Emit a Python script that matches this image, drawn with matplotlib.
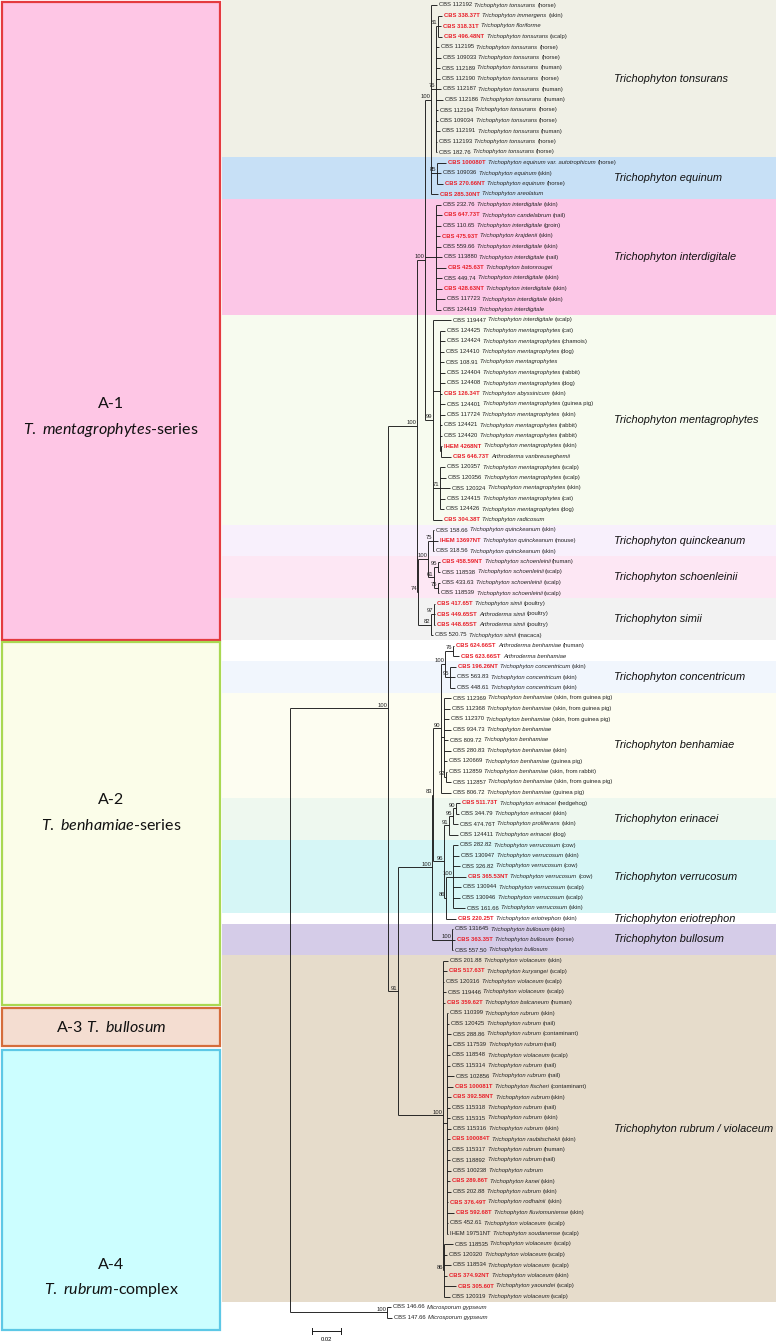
import matplotlib.pyplot as plt

# ---------------- data ----------------
strains = [
    "CBS 112192", "CBS 338.37T", "CBS 318.31T", "CBS 496.48NT", "CBS 112195", "CBS 109033", "CBS 112189",
    "CBS 112190", "CBS 112187", "CBS 112186", "CBS 112194", "CBS 109034", "CBS 112191", "CBS 112193", "CBS 182.76",
    "CBS 100080T", "CBS 109036", "CBS 270.66NT", "CBS 285.30NT",
    "CBS 232.76", "CBS 647.73T", "CBS 110.65", "CBS 475.93T", "CBS 559.66", "CBS 113880", "CBS 425.63T",
    "CBS 449.74", "CBS 428.63NT", "CBS 117723", "CBS 124419",
    "CBS 119447", "CBS 124425", "CBS 124424", "CBS 124410", "CBS 108.91", "CBS 124404", "CBS 124408",
    "CBS 126.34T", "CBS 124401", "CBS 117724", "CBS 124421", "CBS 124420", "IHEM 4268NT", "CBS 646.73T",
    "CBS 120357", "CBS 120356", "CBS 120324", "CBS 124415", "CBS 124426", "CBS 304.38T",
    "CBS 158.66", "IHEM 13697NT", "CBS 318.56",
    "CBS 458.59NT", "CBS 118538", "CBS 433.63", "CBS 118539",
    "CBS 417.65T", "CBS 449.65ST", "CBS 448.65ST", "CBS 520.75",
    "CBS 624.66ST", "CBS 623.66ST",
    "CBS 196.26NT", "CBS 563.83", "CBS 448.61",
    "CBS 112369", "CBS 112368", "CBS 112370", "CBS 934.73", "CBS 809.72", "CBS 280.83", "CBS 120669",
    "CBS 112859", "CBS 112857", "CBS 806.72",
    "CBS 511.73T", "CBS 344.79", "CBS 474.76T", "CBS 124411",
    "CBS 282.82", "CBS 130947", "CBS 326.82", "CBS 365.53NT", "CBS 130944", "CBS 130946", "CBS 161.66",
    "CBS 220.25T",
    "CBS 131645", "CBS 363.35T", "CBS 557.50",
    "CBS 201.88", "CBS 517.63T", "CBS 120316", "CBS 119446", "CBS 359.62T", "CBS 110399", "CBS 120425",
    "CBS 288.86", "CBS 117539", "CBS 118548", "CBS 115314", "CBS 102856", "CBS 100081T", "CBS 392.58NT",
    "CBS 115318", "CBS 115315", "CBS 115316", "CBS 100084T", "CBS 115317", "CBS 118892", "CBS 100238",
    "CBS 289.86T", "CBS 202.88", "CBS 376.49T", "CBS 592.68T", "CBS 452.61", "IHEM 19751NT", "CBS 118535",
    "CBS 120320", "CBS 118534", "CBS 374.92NT", "CBS 305.60T", "CBS 120319",
    "CBS 146.66", "CBS 147.66",
]

species = (
    ["Trichophyton tonsurans", "Trichophyton immergens", "Trichophyton floriforme"]
    + ["Trichophyton tonsurans"] * 12
    + ["Trichophyton equinum var. autotrophicum", "Trichophyton equinum", "Trichophyton equinum",
       "Trichophyton areolatum"]
    + ["Trichophyton interdigitale", "Trichophyton candelabrum", "Trichophyton interdigitale",
       "Trichophyton krajdenii", "Trichophyton interdigitale", "Trichophyton interdigitale",
       "Trichophyton batonrougei"] + ["Trichophyton interdigitale"] * 5
    + ["Trichophyton mentagrophytes"] * 6 + ["Trichophyton abyssinicum"]
    + ["Trichophyton mentagrophytes"] * 5 + ["Arthroderma vanbreuseghemii"]
    + ["Trichophyton mentagrophytes"] * 5 + ["Trichophyton radicosum"]
    + ["Trichophyton quinckeanum"] * 3
    + ["Trichophyton schoenleinii"] * 4
    + ["Trichophyton simii", "Arthroderma simii", "Arthroderma simii", "Trichophyton simii"]
    + ["Arthroderma benhamiae"] * 2
    + ["Trichophyton concentricum"] * 3
    + ["Trichophyton benhamiae"] * 10
    + ["Trichophyton erinacei", "Trichophyton erinacei", "Trichophyton proliferans", "Trichophyton erinacei"]
    + ["Trichophyton verrucosum"] * 7
    + ["Trichophyton eriotrephon"]
    + ["Trichophyton bullosum"] * 3
    + ["Trichophyton violaceum", "Trichophyton kuryangei", "Trichophyton violaceum", "Trichophyton violaceum",
       "Trichophyton balcaneum", "Trichophyton rubrum", "Trichophyton rubrum", "Trichophyton rubrum",
       "Trichophyton rubrum", "Trichophyton violaceum", "Trichophyton rubrum", "Trichophyton rubrum",
       "Trichophyton fischeri", "Trichophyton rubrum", "Trichophyton rubrum", "Trichophyton rubrum",
       "Trichophyton rubrum", "Trichophyton raubitschekii", "Trichophyton rubrum", "Trichophyton rubrum",
       "Trichophyton rubrum", "Trichophyton kanei", "Trichophyton rubrum", "Trichophyton rodhainii",
       "Trichophyton fluviomuniense", "Trichophyton violaceum", "Trichophyton soudanense",
       "Trichophyton violaceum", "Trichophyton violaceum", "Trichophyton violaceum", "Trichophyton violaceum",
       "Trichophyton yaoundei", "Trichophyton violaceum"]
    + ["Microsporum gypseum"] * 2
)

hosts = [
    "horse", "skin", "", "scalp", "horse", "horse", "human", "horse", "human", "human", "horse", "horse",
    "human", "horse", "horse",
    "horse", "skin", "horse", "",
    "skin", "nail", "groin", "skin", "skin", "nail", "", "skin", "skin", "skin", "",
    "scalp", "cat", "chamois", "dog", "", "rabbit", "dog", "skin", "guinea pig", "skin", "rabbit", "rabbit",
    "skin", "", "scalp", "scalp", "skin", "cat", "dog", "",
    "skin", "mouse", "skin",
    "human", "scalp", "scalp", "scalp",
    "poultry", "poultry", "poultry", "macaca",
    "human", "",
    "skin", "skin", "skin",
    "skin, from guinea pig", "skin, from guinea pig", "skin, from guinea pig", "", "", "skin", "guinea pig",
    "skin, from rabbit", "skin, from guinea pig", "guinea pig",
    "hedgehog", "skin", "skin", "dog",
    "cow", "skin", "cow", "cow", "scalp", "scalp", "skin",
    "skin",
    "skin", "horse", "",
    "skin", "scalp", "scalp", "scalp", "human", "skin", "nail", "contaminant", "nail", "scalp", "nail", "nail",
    "contaminant", "skin", "nail", "skin", "skin", "skin", "human", "nail", "", "skin", "skin", "skin", "skin",
    "scalp", "scalp", "scalp", "scalp", "scalp", "skin", "scalp", "scalp",
    "", "",
]

# type strains printed in red
type_strains = [
    "CBS 338.37T", "CBS 318.31T", "CBS 496.48NT", "CBS 100080T", "CBS 270.66NT", "CBS 285.30NT",
    "CBS 647.73T", "CBS 475.93T", "CBS 425.63T", "CBS 428.63NT", "CBS 126.34T", "IHEM 4268NT",
    "CBS 646.73T", "CBS 304.38T", "IHEM 13697NT", "CBS 458.59NT", "CBS 417.65T", "CBS 449.65ST",
    "CBS 448.65ST", "CBS 624.66ST", "CBS 623.66ST", "CBS 196.26NT", "CBS 511.73T", "CBS 365.53NT",
    "CBS 220.25T", "CBS 363.35T", "CBS 517.63T", "CBS 359.62T", "CBS 100081T", "CBS 392.58NT",
    "CBS 100084T", "CBS 289.86T", "CBS 376.49T", "CBS 592.68T", "CBS 374.92NT", "CBS 305.60T",
]

# species groups (first and last leaf) with background colours
group_names = ["Trichophyton tonsurans", "Trichophyton equinum", "Trichophyton interdigitale",
               "Trichophyton mentagrophytes", "Trichophyton quinckeanum", "Trichophyton schoenleinii",
               "Trichophyton simii", None, "Trichophyton concentricum", "Trichophyton benhamiae",
               "Trichophyton erinacei", "Trichophyton verrucosum", "Trichophyton eriotrephon",
               "Trichophyton bullosum", "Trichophyton rubrum / violaceum"]
group_first = [0, 15, 19, 30, 50, 53, 57, 61, 63, 66, 76, 80, 87, 88, 91]
group_last = [14, 18, 29, 49, 52, 56, 60, 62, 65, 75, 79, 86, 87, 90, 123]
group_colors = ["#f0f0e6", "#c7e0f6", "#fcc7e7", "#f7fbef", "#f8f0fc", "#fde7f4", "#f2f2f2", "#ffffff",
                "#f1f6fd", "#fdfdf1", "#eef8ef", "#d6f6f6", "#ffffff", "#d5cce8", "#e6dccb"]

# tree (branch lengths in substitutions per site, node labels = bootstrap support)
tonsurans = ("(0:0.0041,((1:0.0028,2:0.0021,3:0.0028)81:0.0014,4:0.0021,5:0.0034,6:0.0028,7:0.0028,"
             "8:0.0034,9:0.0048,10:0.0014,11:0.0014,12:0.0028,13:0.0007,14:0.0007)76:0.0034,"
             "(15:0.0062,16:0.0028,17:0.0041)85:0.0041,18:0.0048)100")
interdigitale = ("(19:0.0034,20:0.0041,21:0.0034,22:0.0028,23:0.0034,24:0.0041,25:0.0069,26:0.0041,"
                 "27:0.0041,28:0.0062,29:0.0034)")
mentagrophytes = ("(30:0.0124,(31:0.0034,32:0.0034,33:0.0028,34:0.0028,35:0.0034,36:0.0034,37:0.0014,"
                  "38:0.0034,39:0.0034,40:0.0014,41:0.0014,(42:0.0007,43:0.0069):0.0007):0.0048,"
                  "(44:0.0034,45:0.0041,46:0.0069,47:0.0034,48:0.0028)71:0.0048,49:0.0062)99")
quinckeanum = "(50:0.0005,51:0.0034,52:0.0007)75"
schoenleinii = "((53:0.0014,54:0.0014)95:0.0028,(55:0.0014,56:0.0007)75:0.0028)61"
simii = "((57:0.0003,58:0.0007,59:0.0007)97:0.0021,60:0.0014)82"
benhamiae = ("(((61:0.0007,62:0.0041)76:0.0055,(63:0.0041,64:0.0034,65:0.0034)95:0.0034)100:0.0028,"
             "(66:0.0048,67:0.0041,68:0.0034,69:0.0048,70:0.0028,71:0.0048,72:0.0021,"
             "(73:0.0007,74:0.0034)92:0.0014):0.0021,75:0.0069)90")
verrucosum = ("(((76:0.0028,77:0.0021)90:0.0021,78:0.0034)95:0.0028,79:0.0062)91:0.0034,"
              "((80:0.0034,81:0.0041,82:0.0048,83:0.0090,84:0.0055,85:0.0048,86:0.0083)100:0.0048,"
              "87:0.0069)86:0.0014")
bullosum = "(88:0.0007,89:0.0021,90:0.0007)100"
rubrum = ("(91:0.0034,92:0.0028,93:0.0007,94:0.0021,95:0.0014,"
          "(96:0.0007,97:0.0014,98:0.0028,99:0.0028,100:0.0021,101:0.0021,102:0.0048,103:0.0041,"
          "104:0.0028,105:0.0021,106:0.0021,107:0.0028,108:0.0021,109:0.0021,110:0.0021,111:0.0028,"
          "112:0.0021,113:0.0028,114:0.0007,115:0.0048,116:0.0007,117:0.0007):0.0028,"
          "(118:0.0062,119:0.0021,120:0.0048,121:0.0021,122:0.0083,123:0.0041)86:0.0007)100")
outgroup = "(124:0.0028,125:0.0034)100"

series_a1 = (f"({tonsurans}:0.0041,{interdigitale}:0.0076,{mentagrophytes}:0.0055)100:0.0055,"
             f"(({quinckeanum}:0.0034,{schoenleinii}:0.0041)100:0.0069,{simii}:0.0090)74:0.0007")
series_a2 = f"({benhamiae}:0.0055,({verrucosum})96:0.0076)83"
tree = (f"((({series_a1})100:0.0200,(({series_a2}:0.0007,{bullosum}:0.0138)100:0.0234,"
        f"{rubrum}:0.0310)91:0.0069)100:0.0676,{outgroup}:0.0669);")


# ---------------- tree parsing / layout ----------------
def parse_newick(s):
    pos = 0

    def node():
        nonlocal pos
        n = {"children": [], "name": "", "bl": 0.0}
        if s[pos] == "(":
            pos += 1
            while True:
                n["children"].append(node())
                if s[pos] == ",":
                    pos += 1
                    continue
                pos += 1  # ')'
                break
        start = pos
        while s[pos] not in ":,);":
            pos += 1
        n["name"] = s[start:pos]
        if s[pos] == ":":
            pos += 1
            start = pos
            while s[pos] not in ",);":
                pos += 1
            n["bl"] = float(s[start:pos])
        return n

    return node()


def layout(n, x0=0.0):
    n["x"] = x0 + n["bl"]
    if n["children"]:
        for c in n["children"]:
            layout(c, n["x"])
        n["y"] = (n["children"][0]["y"] + n["children"][-1]["y"]) / 2
    else:
        n["y"] = int(n["name"])


def walk(n):
    yield n
    for c in n["children"]:
        yield from walk(c)


root = parse_newick(tree)
root["bl"] = 0.0
layout(root)

# ---------------- figure ----------------
W, H = 776, 1341
fig = plt.figure(figsize=(W / 100, H / 100), dpi=100)
ax = fig.add_axes([0, 0, 1, 1])
ax.axis("off")
ax.set_xlim(-290 / 1450, (W - 290) / 1450)
ax.set_ylim((H - 5) / 10.5, -5 / 10.5)

lab_font = "Liberation Sans"
lw = 0.65
tc = "#1a1a1a"
fs = 4.25

# background bands + group labels
for name, a, b, col in zip(group_names, group_first, group_last, group_colors):
    ax.axhspan(a - 0.5, b + 0.5, xmin=222 / W, xmax=1.0, color=col, lw=0, zorder=0)
    if name:
        ax.text(614 / W, (a + b) / 2, name, transform=ax.get_yaxis_transform(), style="italic",
                fontsize=7.9, family=lab_font, va="center", ha="left", color="#111111")

# branches
for n in walk(root):
    if not n["children"]:
        continue
    ys = [c["y"] for c in n["children"]]
    ax.plot([n["x"], n["x"]], [min(ys), max(ys)], color=tc, lw=lw, solid_capstyle="butt", zorder=2)
    for c in n["children"]:
        ax.plot([n["x"], c["x"]], [c["y"], c["y"]], color=tc, lw=lw, solid_capstyle="butt", zorder=2)
    if n["name"]:
        ax.annotate(n["name"], (n["x"], n["y"]), xytext=(-0.3, 0.4), textcoords="offset points",
                    ha="right", va="bottom", fontsize=fs, family=lab_font, color="#222222", zorder=3)

# leaf labels: strain, species (italic), host
for n in walk(root):
    if n["children"]:
        continue
    i = int(n["name"])
    red = strains[i] in type_strains
    t1 = ax.annotate(strains[i], (n["x"], n["y"]), xytext=(1.5, 0), textcoords="offset points",
                     ha="left", va="center", fontsize=fs, family=lab_font,
                     color="#e8202a" if red else "#222222", weight="bold" if red else "normal", zorder=3)
    t2 = ax.annotate(species[i], (1, 0), xycoords=t1, xytext=(1.7, 0), textcoords="offset points",
                     ha="left", va="bottom", fontsize=fs, family=lab_font, style="italic", color="#222222")
    if hosts[i]:
        ax.annotate("(" + hosts[i] + ")", (1, 0), xycoords=t2, xytext=(1.2, 0), textcoords="offset points",
                    ha="left", va="bottom", fontsize=fs, family=lab_font, color="#222222")

# scale bar
sb_y = (1331 - 5) / 10.5
sb_x0 = (312 - 290) / 1450
ax.plot([sb_x0, sb_x0 + 0.02], [sb_y, sb_y], color=tc, lw=0.7)
for xx in (sb_x0, sb_x0 + 0.02):
    ax.plot([xx, xx], [sb_y - 0.25, sb_y + 0.25], color=tc, lw=0.7)
ax.text(sb_x0 + 0.01, sb_y + 0.55, "0.02", ha="center", va="top", fontsize=fs, family=lab_font)

# left clade boxes
plt.rcParams["mathtext.fontset"] = "custom"
plt.rcParams["mathtext.it"] = "Lato:italic"
plt.rcParams["mathtext.rm"] = "Lato"
boxes = [
    (2, 640, "#fec6e5", "#e43a3f", ["A-1", r"$\mathit{T.\ mentagrophytes}$-series"], [404, 430]),
    (642, 1005, "#fbfde9", "#a9d852", ["A-2", r"$\mathit{T.\ benhamiae}$-series"], [800, 825]),
    (1008, 1046, "#f4ddd1", "#d56c3b", [r"A-3 $\mathit{T.\ bullosum}$"], [1027]),
    (1050, 1330, "#ccfeff", "#5dc8e6", ["A-4", r"$\mathit{T.\ rubrum}$-complex"], [1265, 1290]),
]
for top, bot, fc, ec, lines, ly in boxes:
    ax.add_patch(plt.Rectangle((2 / W, 1 - bot / H), 218 / W, (bot - top) / H, transform=ax.transAxes,
                               facecolor=fc, edgecolor=ec, lw=1.6, zorder=1))
    for txt, yy in zip(lines, ly):
        ax.text(111 / W, 1 - yy / H, txt, transform=ax.transAxes, ha="center", va="center",
                fontsize=11.5, family="Lato", color="#111111")

fig.savefig("out.png", dpi=100)
